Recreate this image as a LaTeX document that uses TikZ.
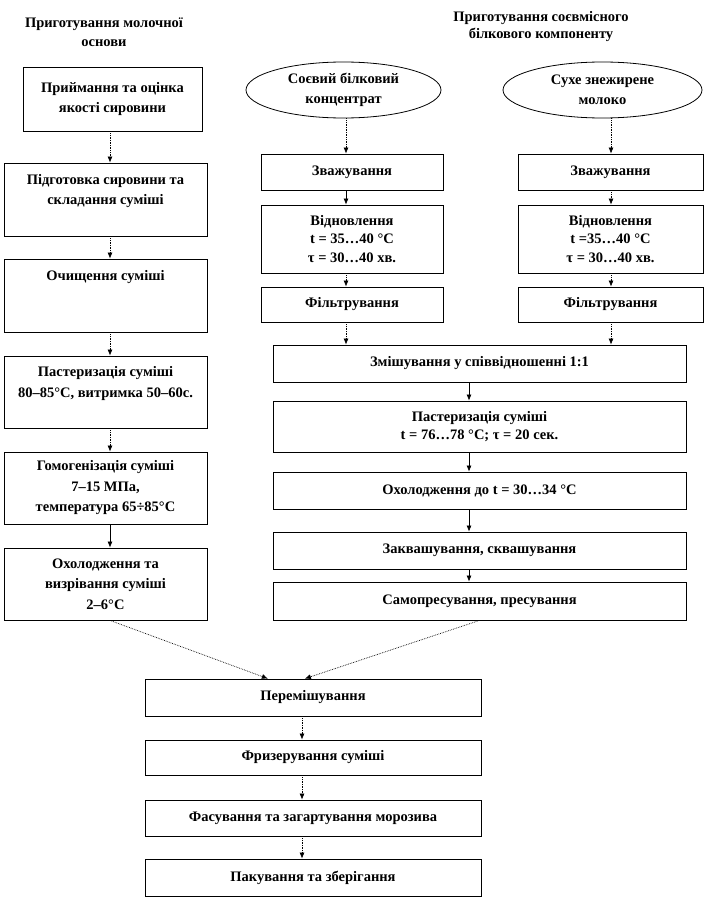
\documentclass[tikz,border=0pt]{standalone}
\usepackage{fontspec}
\setmainfont{Liberation Serif}
\usetikzlibrary{shapes.geometric,calc,arrows.meta}

\tikzset{
  stepbox/.style={draw, line width=0.8pt, inner sep=0pt, align=center,
    font=\bfseries\fontsize{14.5}{20.5}\selectfont},
  tightbox/.style={stepbox, font=\bfseries\fontsize{14.5}{18.5}\selectfont},
  srcoval/.style={draw, ellipse, line width=0.8pt, inner sep=0pt, align=center,
    minimum height=56pt, font=\bfseries\fontsize{14.5}{20}\selectfont},
  heading/.style={align=center, font=\bfseries\fontsize{14.5}{19}\selectfont},
  flow/.style={-{Latex[length=6pt,width=5pt]}, line width=0.7pt, densely dotted},
  flowsolid/.style={-{Latex[length=6pt,width=5pt]}, line width=0.7pt},
}

\begin{document}
\begin{tikzpicture}[x=1pt,y=-1pt]
  \useasboundingbox (0,0) rectangle (705,899);
  \coordinate (axL) at (110,0);
  \coordinate (axS) at (346,0);
  \coordinate (axM) at (611,0);
  \coordinate (axW) at (469,0);
  \coordinate (axB) at (302,0);

  \node[heading] (headL) at (104,32) {Приготування молочної\\основи};
  \node[heading, font=\bfseries\fontsize{14.5}{17}\selectfont] (headR) at (541,26.5) {Приготування соєвмісного\\білкового компоненту};

  \node[stepbox, minimum width=179pt, minimum height=64pt] (b1) at (112.5,99) {Приймання та оцінка\\якості сировини};
  \node[stepbox, minimum width=203pt, minimum height=73pt] (b2) at (105.5,199.5) {Підготовка сировини та\\складання суміші\\~};
  \node[stepbox, minimum width=203pt, minimum height=73pt] (b3) at (105.5,295.5) {Очищення суміші\\~\\~};
  \node[stepbox, minimum width=203pt, minimum height=72pt] (b4) at (105.5,392) {Пастеризація суміші\\80–85°C, витримка 50–60с.\\~};
  \node[stepbox, minimum width=203pt, minimum height=72pt] (b5) at (105.5,488) {Гомогенізація суміші\\7–15 МПа,\\температура 65÷85°C};
  \node[stepbox, minimum width=203pt, minimum height=72pt] (b6) at (105.5,584) {Охолодження та\\визрівання суміші\\2–6°C};

  \node[srcoval, minimum width=195pt] (soy) at (343.5,90) {Соєвий білковий\\концентрат};
  \node[srcoval, minimum width=199pt] (milk) at (602.5,90) {Сухе знежирене\\молоко};

  \node[tightbox, minimum width=182pt, minimum height=36pt] (s1) at (352,172) {Зважування};
  \node[tightbox, minimum width=182pt, minimum height=68pt] (s2) at (352,239) {Відновлення\\t = 35…40 °C\\τ = 30…40 хв.};
  \node[tightbox, minimum width=182pt, minimum height=35pt] (s3) at (352,304.5) {Фільтрування};
  \node[tightbox, minimum width=185pt, minimum height=36pt] (m1) at (610.5,172) {Зважування};
  \node[tightbox, minimum width=185pt, minimum height=68pt] (m2) at (610.5,239) {Відновлення\\t =35…40 °C\\τ = 30…40 хв.};
  \node[tightbox, minimum width=185pt, minimum height=35pt] (m3) at (610.5,304.5) {Фільтрування};

  \node[tightbox, minimum width=413pt, minimum height=37pt] (w1) at (479.5,363.5) {Змішування у співвідношенні 1:1};
  \node[tightbox, minimum width=413pt, minimum height=51pt] (w2) at (479.5,426.5) {Пастеризація суміші\\t = 76…78 °C; τ = 20 сек.};
  \node[tightbox, minimum width=413pt, minimum height=37pt] (w3) at (479.5,490.5) {Охолодження до t = 30…34 °C};
  \node[tightbox, minimum width=413pt, minimum height=37pt] (w4) at (479.5,550.5) {Заквашування, сквашування};
  \node[tightbox, minimum width=413pt, minimum height=38pt] (w5) at (479.5,601) {Самопресування, пресування};

  \node[tightbox, minimum width=336pt, minimum height=37pt] (f1) at (313,697.5) {Перемішування};
  \node[tightbox, minimum width=336pt, minimum height=35pt] (f2) at (313,757.5) {Фризерування суміші};
  \node[tightbox, minimum width=336pt, minimum height=36pt] (f3) at (313,818) {Фасування та загартування морозива};
  \node[tightbox, minimum width=336pt, minimum height=37pt] (f4) at (313,877.5) {Пакування та зберігання};

  \draw[flow] (b1.south -| axL) -- (b2.north -| axL);
  \draw[flow] (b2.south -| axL) -- (b3.north -| axL);
  \draw[flow] (b3.south -| axL) -- (b4.north -| axL);
  \draw[flow] (b4.south -| axL) -- (b5.north -| axL);
  \draw[flowsolid] (b5.south -| axL) -- (b6.north -| axL);

  \draw[flow] (soy.south -| axS) -- (s1.north -| axS);
  \draw[flowsolid] (s1.south -| axS) -- (s2.north -| axS);
  \draw[flow] (s2.south -| axS) -- (s3.north -| axS);
  \draw[flow] (s3.south -| axS) -- (w1.north -| axS);
  \draw[flow] (milk.south -| axM) -- (m1.north -| axM);
  \draw[flow] (m1.south -| axM) -- (m2.north -| axM);
  \draw[flow] (m2.south -| axM) -- (m3.north -| axM);
  \draw[flow] (m3.south -| axM) -- (w1.north -| axM);

  \draw[flowsolid] (w1.south -| axW) -- (w2.north -| axW);
  \draw[flowsolid] (w2.south -| axW) -- (w3.north -| axW);
  \draw[flowsolid] (w3.south -| axW) -- (w4.north -| axW);
  \draw[flowsolid] (w4.south -| axW) -- (w5.north -| axW);

  \draw[flow] (b6.south -| axL) -- ($(f1.north west)!0.366!(f1.north east)$);
  \draw[flow] (w5.south) -- ($(f1.north west)!0.476!(f1.north east)$);

  \draw[flow] (f1.south -| axB) -- (f2.north -| axB);
  \draw[flow] (f2.south -| axB) -- (f3.north -| axB);
  \draw[flow] (f3.south -| axB) -- (f4.north -| axB);
\end{tikzpicture}
\end{document}
